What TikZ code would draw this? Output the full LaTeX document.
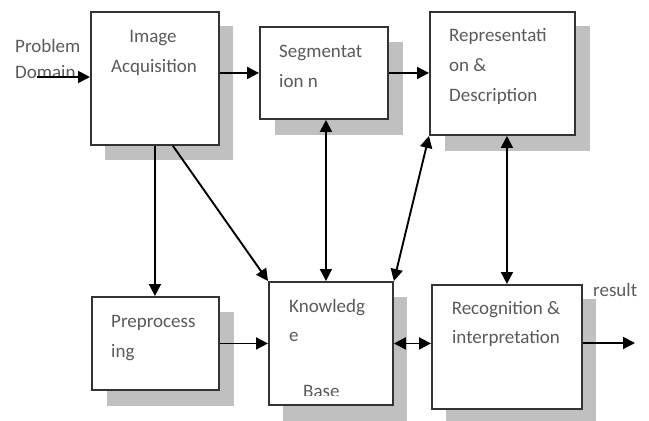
\documentclass[tikz,border=0pt]{standalone}
\usepackage{fontspec}
\setmainfont{Carlito}
\usetikzlibrary{arrows.meta}
\definecolor{txtc}{HTML}{5A5A5A}
\definecolor{boxc}{HTML}{333333}
\definecolor{shadowc}{HTML}{C0C0C0}
\begin{document}
\begin{tikzpicture}[x=1pt,y=-1pt,
  box/.style={draw=boxc, line width=1.9pt, fill=white, inner sep=0pt, anchor=north west},
  lbl/.style={text=txtc, inner sep=0pt, font=\fontsize{19}{23}\selectfont},
  arr/.style={line width=1.9pt, draw=black, -{Triangle[length=12pt,width=12pt]}},
  darr/.style={line width=1.9pt, draw=black, {Triangle[length=12pt,width=12pt]}-{Triangle[length=12pt,width=12pt]}}]
\useasboundingbox (0,0) rectangle (649,421);
% shadows
\fill[shadowc] (105,26) rectangle (233,160);
\fill[shadowc] (275,42) rectangle (403,135);
\fill[shadowc] (445,26) rectangle (590,151);
\fill[shadowc] (107,312) rectangle (234,406);
\fill[shadowc] (283,297) rectangle (407,421);
\fill[shadowc] (446,299) rectangle (596,424);
% boxes
\node[box, minimum width=128pt, minimum height=133pt] (IA) at (90,11) {};
\node[box, minimum width=128pt, minimum height=92pt] (SEG) at (259,26) {};
\node[box, minimum width=145pt, minimum height=123pt] (REP) at (429,11) {};
\node[box, minimum width=127pt, minimum height=93pt] (PRE) at (91,296) {};
\node[box, minimum width=124pt, minimum height=123pt] (KB) at (268,281) {};
\node[box, minimum width=150pt, minimum height=124pt] (REC) at (431,284) {};
% texts
\node[lbl, anchor=base west] (t1) at (15,52) {Problem};
\node[lbl, anchor=base west] (t2) at (15,78) {Domain};
\node[lbl, anchor=base] (t3) at (153,42) {Image};
\node[lbl, anchor=base] (t4) at (154,72) {Acquisition};
\node[lbl, anchor=base west] (t5) at (279,57) {Segmentat};
\node[lbl, anchor=base west] (t6) at (279,87) {ion n};
\node[lbl, anchor=base west] (t7) at (449,41) {Representati};
\node[lbl, anchor=base west] (t8) at (449,71) {on \&};
\node[lbl, anchor=base west] (t9) at (449,101) {Description};
\node[lbl, anchor=base west] (t10) at (111,327) {Preprocess};
\node[lbl, anchor=base west] (t11) at (111,357) {ing};
\node[lbl, anchor=base west] (t12) at (289,312) {Knowledg};
\node[lbl, anchor=base west] (t13) at (289,341) {e};
\begin{scope}
\clip (268,281) rectangle (392,395);
\node[lbl, anchor=base west] (t14) at (303,397) {Base};
\end{scope}
\node[lbl, anchor=base] (t15) at (506,314) {Recognition \&};
\node[lbl, anchor=base] (t16) at (506,343) {interpretation};
\node[lbl, anchor=base west] (t17) at (593,296) {result};
% connectors
\coordinate (pd) at (37,77);
\coordinate (res) at (635,343);
\draw[arr] (pd) -- (pd -| IA.west);
\draw[arr] (SEG.west -| IA.east) -- (SEG.west);
\draw[arr] (SEG.east) -- (SEG.east -| REP.west);
\draw[arr] (IA.south) -- (IA.south |- PRE.north);
\draw[arr] ([xshift=18pt]IA.south) -- (KB.north west);
\draw[darr] ([xshift=2pt]SEG.south) -- ([xshift=2pt]SEG.south |- KB.north);
\draw[darr] (REP.south west) -- (KB.north east);
\draw[darr] (REC.north) -- (REC.north |- REP.south);
\draw[arr] (PRE.east) -- (PRE.east -| KB.west);
\draw[darr] (KB.east) -- (KB.east -| REC.west);
\draw[arr] (res -| REC.east) -- (res);
\end{tikzpicture}
\end{document}
